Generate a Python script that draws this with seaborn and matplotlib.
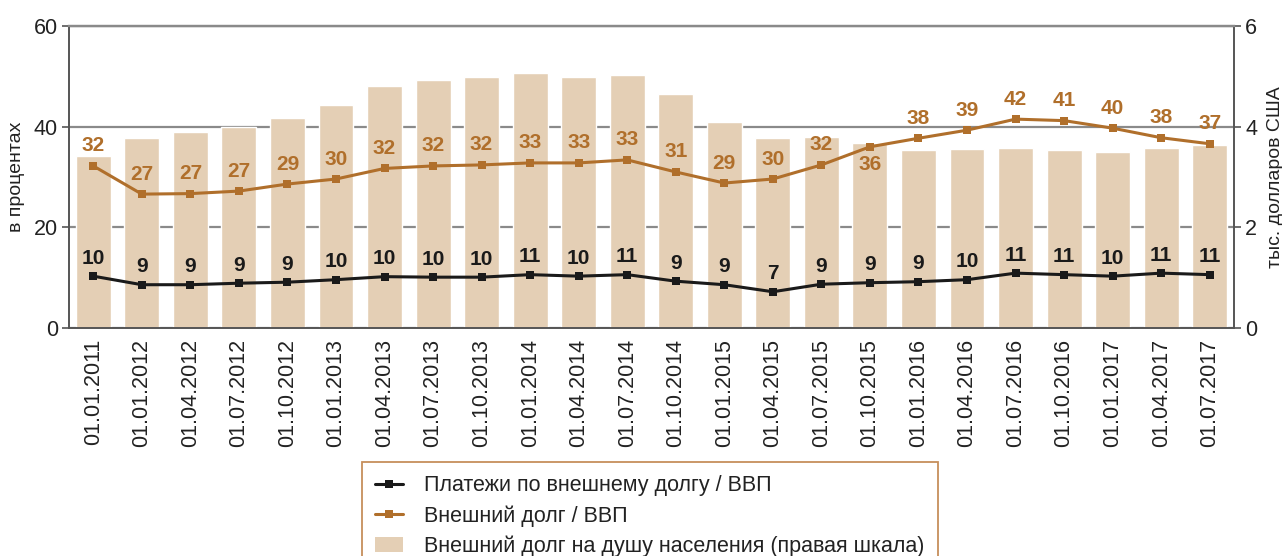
import numpy as np
import pandas as pd
import matplotlib
matplotlib.use("Agg")
import matplotlib.pyplot as plt
from matplotlib.lines import Line2D
from matplotlib.patches import Patch
import seaborn as sns

dates = ['01.01.2011', '01.01.2012', '01.04.2012', '01.07.2012', '01.10.2012',
         '01.01.2013', '01.04.2013', '01.07.2013', '01.10.2013', '01.01.2014',
         '01.04.2014', '01.07.2014', '01.10.2014', '01.01.2015', '01.04.2015',
         '01.07.2015', '01.10.2015', '01.01.2016', '01.04.2016', '01.07.2016',
         '01.10.2016', '01.01.2017', '01.04.2017', '01.07.2017']

# external debt per capita, thousand USD (right axis)
debt_per_capita = [3.42, 3.77, 3.89, 4.00, 4.17, 4.43, 4.81, 4.93, 4.99, 5.07,
                   4.99, 5.03, 4.65, 4.09, 3.77, 3.79, 3.67, 3.54, 3.56, 3.58,
                   3.54, 3.50, 3.58, 3.64]
# external debt / GDP, %
debt_gdp = [32.2, 26.6, 26.7, 27.2, 28.6, 29.6, 31.7, 32.2, 32.4, 32.8,
            32.8, 33.4, 31.0, 28.8, 29.6, 32.4, 36.0, 37.7, 39.3, 41.5,
            41.2, 39.7, 37.8, 36.6]
# external debt payments / GDP, %
payments_gdp = [10.3, 8.6, 8.6, 8.9, 9.1, 9.6, 10.2, 10.1, 10.1, 10.6,
                10.3, 10.6, 9.3, 8.6, 7.2, 8.7, 9.0, 9.2, 9.6, 10.9,
                10.6, 10.3, 10.9, 10.6]

bar_color = '#E4CFB5'
orange = '#B06F2B'
black = '#1A1A1A'
grid_color = '#8A8A8A'
spine_color = '#555555'

sns.set_theme(style='white')
plt.rcParams['font.family'] = ['Liberation Sans', 'DejaVu Sans']

df = pd.DataFrame({'date': dates, 'per_capita': debt_per_capita,
                   'debt_gdp': debt_gdp, 'payments_gdp': payments_gdp})
df['pos'] = np.arange(len(df))

fig = plt.figure(figsize=(12.82, 5.56), dpi=100)
ax = fig.add_axes([69 / 1282, 228 / 556, (1234 - 69) / 1282, 302 / 556])
ax2 = ax.twinx()

# bars on right axis, behind the lines
sns.barplot(data=df, x='pos', y='per_capita', color=bar_color, width=0.72,
            saturation=1, ax=ax2, native_scale=True)
ax2.set_ylim(0, 6)
ax2.set_yticks([0, 2, 4, 6])
ax2.set_axisbelow(True)
ax2.yaxis.grid(True, color=grid_color, lw=1.6)
ax2.set_ylabel('тыс. долларов США', fontsize=14, color='#222222', rotation=90, labelpad=7)

ax.set_zorder(ax2.get_zorder() + 1)
ax.patch.set_visible(False)

sns.lineplot(data=df, x='pos', y='debt_gdp', color=orange, lw=2.2, marker='s',
             markersize=6.2, markeredgewidth=0, ax=ax)
sns.lineplot(data=df, x='pos', y='payments_gdp', color=black, lw=2.2, marker='s',
             markersize=6.2, markeredgewidth=0, ax=ax)

for i, v in enumerate(debt_gdp):
    off = -18 if dates[i] == '01.10.2015' else 20
    ax.annotate(f'{round(v):d}', (i, v), xytext=(0, off), textcoords='offset pixels',
                ha='center', va='center', fontsize=15, fontweight='bold', color=orange)
for i, v in enumerate(payments_gdp):
    ax.annotate(f'{round(v):d}', (i, v), xytext=(0, 18), textcoords='offset pixels',
                ha='center', va='center', fontsize=15, fontweight='bold', color=black)

ax.set_xlim(-0.5, len(dates) - 0.5)
ax.set_ylim(0, 60)
ax.set_yticks([0, 20, 40, 60])
ax.set_xticks(df['pos'])
ax.set_xticklabels(dates, rotation=90, fontsize=15.5, color='#222222')
ax.set_xticks(np.arange(len(dates) + 1) - 0.5, minor=True)
ax.tick_params(axis='x', which='major', length=0, pad=8)
ax.tick_params(axis='x', which='minor', length=5, width=1.2, color=spine_color, direction='out')
ax.tick_params(axis='y', length=5, width=1.2, color=spine_color, direction='out',
               labelsize=15.5, labelcolor='#222222', pad=3)
ax2.tick_params(axis='y', length=5, width=1.2, color=spine_color, direction='out',
                labelsize=15.5, labelcolor='#222222', pad=3)
ax.set_xlabel('')
ax.set_ylabel('в процентах', fontsize=14, color='#222222', labelpad=6)

for a in (ax, ax2):
    for s in a.spines.values():
        s.set_color(spine_color)
        s.set_linewidth(1.2)
    a.spines['top'].set_color(grid_color)
    a.spines['top'].set_linewidth(1.6)

handles = [
    Line2D([], [], color=black, lw=2.2, marker='s', markersize=5.5, markeredgewidth=0),
    Line2D([], [], color=orange, lw=2.2, marker='s', markersize=5.5, markeredgewidth=0),
    Patch(facecolor=bar_color, edgecolor='none'),
]
labels = ['Платежи по внешнему долгу / ВВП', 'Внешний долг / ВВП',
          'Внешний долг на душу населения (правая шкала)']
leg = fig.legend(handles, labels, loc='upper left',
                 bbox_to_anchor=(362 / 1282, 1 - 462 / 556), fontsize=15.5,
                 frameon=True, fancybox=False, handlelength=1.3, handletextpad=0.95,
                 labelspacing=0.42, borderpad=0.62, borderaxespad=0)
leg.get_frame().set_edgecolor('#B87333')
leg.get_frame().set_linewidth(1.3)
for t in leg.get_texts():
    t.set_color('#222222')

fig.savefig('out.png', dpi=100)
